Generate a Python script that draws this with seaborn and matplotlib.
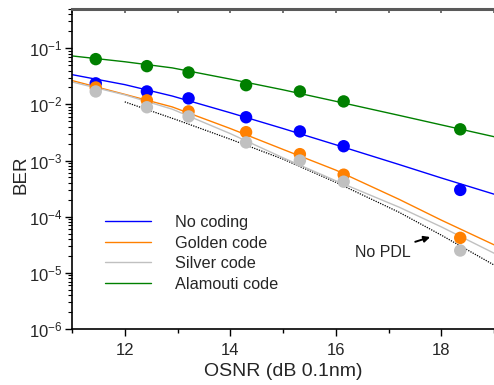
import numpy as np
import pandas as pd
import matplotlib
matplotlib.use("Agg")
import matplotlib.pyplot as plt
import seaborn as sns
from matplotlib.ticker import LogLocator, MultipleLocator, NullFormatter

sns.set_theme(style="ticks")
plt.rcParams['font.family'] = ['Liberation Sans', 'DejaVu Sans']
plt.rcParams['mathtext.default'] = 'regular'

# ---- measured points ----
osnr_pts = [11.45, 12.42, 13.21, 14.30, 15.32, 16.15, 18.36]
ber_alamouti = [0.064, 0.048, 0.037, 0.022, 0.017, 0.0113, 0.0036]
ber_nocoding = [0.0237, 0.017, 0.0128, 0.0059, 0.0033, 0.0018, 0.0003]
ber_golden = [0.020, 0.0118, 0.0075, 0.0032, 0.0013, 0.00056, 4.2e-5]
ber_silver = [0.017, 0.0089, 0.0061, 0.0021, 0.0010, 0.00042, 2.5e-5]

# ---- fitted curves ----
osnr_fit = [11.0, 12.0, 12.9, 14.0, 15.0, 16.0, 17.2, 18.0, 19.0]
fit_nocoding = [0.0339, 0.0225, 0.0141, 0.0071, 0.00372, 0.00191, 0.00085, 0.00049, 0.000252]
fit_golden = [0.0266, 0.0151, 0.00902, 0.00372, 0.00158, 0.000676, 0.000204, 8.7e-5, 3.16e-5]
fit_silver = [0.0251, 0.0148, 0.00822, 0.00302, 0.00112, 0.000437, 0.000148, 6.6e-5, 2.24e-5]
fit_alamouti = [0.0730, 0.0575, 0.0447, 0.0282, 0.0182, 0.01135, 0.00638, 0.00432, 0.00266]

osnr_nopdl = [12.0, 13.0, 14.0, 15.0, 16.0, 17.2, 18.0, 19.0]
ber_nopdl = [0.0111, 0.00525, 0.0024, 0.00106, 0.00041, 0.00012, 4.7e-5, 1.38e-5]

series = ["No coding", "Golden code", "Silver code", "Alamouti code"]
colors = {"No coding": "#0000FF", "Golden code": "#FF8000",
          "Silver code": "#C0C0C0", "Alamouti code": "#008000"}

fit_df = pd.concat([
    pd.DataFrame({"osnr": osnr_fit, "ber": fit_nocoding, "series": "No coding"}),
    pd.DataFrame({"osnr": osnr_fit, "ber": fit_golden, "series": "Golden code"}),
    pd.DataFrame({"osnr": osnr_fit, "ber": fit_silver, "series": "Silver code"}),
    pd.DataFrame({"osnr": osnr_fit, "ber": fit_alamouti, "series": "Alamouti code"}),
], ignore_index=True)

pts_df = pd.concat([
    pd.DataFrame({"osnr": osnr_pts, "ber": ber_alamouti, "series": "Alamouti code"}),
    pd.DataFrame({"osnr": osnr_pts, "ber": ber_nocoding, "series": "No coding"}),
    pd.DataFrame({"osnr": osnr_pts, "ber": ber_golden, "series": "Golden code"}),
    pd.DataFrame({"osnr": osnr_pts, "ber": ber_silver, "series": "Silver code"}),
], ignore_index=True)

fig = plt.figure(figsize=(4.94, 3.85), dpi=100)
ax = fig.add_axes([72/494, 1-329/385, 1-72/494, 320/385])

sns.lineplot(data=pd.DataFrame({"osnr": osnr_nopdl, "ber": ber_nopdl}),
             x="osnr", y="ber", color="black", linestyle=(0, (1, 1)),
             linewidth=0.9, ax=ax, legend=False)

sns.lineplot(data=fit_df, x="osnr", y="ber", hue="series", hue_order=series,
             palette=colors, linewidth=1.0, ax=ax, estimator=None, sort=True)

for s in ["Alamouti code", "No coding", "Golden code", "Silver code"]:
    sub = pts_df[pts_df.series == s]
    sns.scatterplot(data=sub, x="osnr", y="ber", color=colors[s], s=80,
                    edgecolor="none", ax=ax, legend=False, zorder=3)

ax.set_yscale("log")
ax.set_xlim(11, 19)
ax.set_ylim(1e-6, 0.5)

ax.xaxis.set_major_locator(MultipleLocator(2))
ax.xaxis.set_minor_locator(MultipleLocator(1))
ax.yaxis.set_major_locator(LogLocator(base=10, numticks=20))
ax.yaxis.set_minor_locator(LogLocator(base=10, subs=np.arange(2, 10), numticks=20))
ax.yaxis.set_minor_formatter(NullFormatter())

ax.tick_params(axis="x", which="major", direction="out", length=5, width=1, labelsize=12, pad=5, color="black")
ax.tick_params(axis="x", which="minor", direction="out", length=3, width=1, color="black")
ax.tick_params(axis="y", which="major", direction="out", length=5, width=1, labelsize=12, pad=2, color="black")
ax.tick_params(axis="y", which="minor", direction="out", length=3, width=0.8, color="black")

for sp in ["left", "bottom"]:
    ax.spines[sp].set_color("black")
    ax.spines[sp].set_linewidth(1.2)
ax.spines["right"].set_visible(False)
ax.spines["top"].set_color("#5a5a5a")
ax.spines["top"].set_linewidth(2.2)

# top ticks pointing inside
sec = ax.secondary_xaxis("top")
sec.xaxis.set_major_locator(MultipleLocator(1))
sec.tick_params(direction="in", length=3, width=1.2, color="#5a5a5a", labeltop=False)
sec.spines["top"].set_visible(False)

ax.set_xlabel("OSNR (dB 0.1nm)", fontsize=14, labelpad=4)
ax.set_ylabel("BER", fontsize=13.5)
ax.yaxis.set_label_coords((30-72)/422, (329-175)/320)

handles, labels = ax.get_legend_handles_labels()
leg = ax.legend(handles, labels, loc="upper left",
                bbox_to_anchor=((105-72)/422, (329-215)/320),
                frameon=False, fontsize=11.7, handlelength=2.8,
                handletextpad=1.5, labelspacing=0.34, borderpad=0,
                borderaxespad=0)

ax.annotate("No PDL", xy=(17.79, 4.34e-5), xytext=(17.42, 2.34e-5),
            ha="right", va="center", fontsize=11.5,
            arrowprops=dict(arrowstyle="-|>", color="black", lw=1.4,
                            mutation_scale=9, shrinkA=1, shrinkB=0))

fig.savefig("out.png", dpi=100)
